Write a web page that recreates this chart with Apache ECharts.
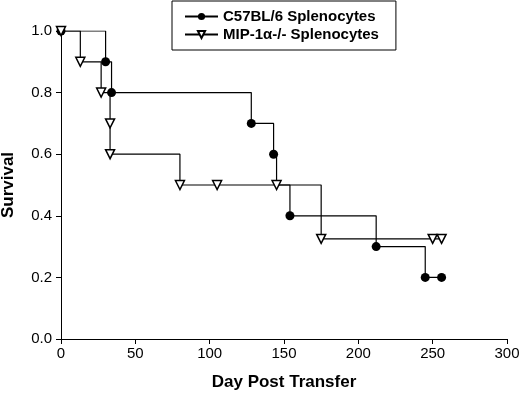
<!DOCTYPE html>
<html>
<head>
<meta charset="utf-8">
<script src="https://cdn.jsdelivr.net/npm/echarts@6/dist/echarts.min.js"></script>
<style>
	html, body { margin: 0; padding: 0; background: #fff; }
	#chart { width: 520px; height: 395px; }
</style>
</head>
<body>
<div id="chart"></div>
<script>
// Kaplan-Meier curves
const c57Name = 'C57BL/6 Splenocytes'
const c57Days = [0, 30, 34, 128, 143, 145, 154, 212, 245, 256]
const c57Surv = [1.0, 0.9, 0.8, 0.7, 0.6, 0.5, 0.4, 0.3, 0.2, 0.2]
const c57Hidden = [145] // step drop under the other curve's marker, no symbol drawn

const mipName = 'MIP-1\u03b1-/- Splenocytes'
const mipDays = [0, 13, 27, 33, 33, 80, 105, 145, 175, 250, 256]
const mipSurv = [1.0, 0.9, 0.8, 0.7, 0.6, 0.5, 0.5, 0.5, 0.325, 0.325, 0.325]

const xTicks = [0, 50, 100, 150, 200, 250, 300]
const yTicks = [0, 0.2, 0.4, 0.6, 0.8, 1.0]

const font = 'Liberation Sans, Arial, sans-serif'

function buildData(days, surv, hidden) {
	return days.map((d, i) => {
		const item = { value: [d, surv[i]] }
		if (hidden && hidden.includes(d)) item.symbol = 'none'
		return item
	})
}

const chart = echarts.init(document.getElementById('chart'))

chart.setOption({
	animation: false,
	backgroundColor: '#fff',
	grid: {
		left: 61,
		right: 13,
		top: 31,
		bottom: 56,
		outerBoundsMode: 'none',
		containLabel: false
	},
	legend: {
		orient: 'vertical',
		left: 172,
		top: 1,
		padding: [8, 17, 8, 12],
		itemGap: 3,
		itemWidth: 33,
		itemHeight: 9,
		borderColor: '#000',
		borderWidth: 1,
		textStyle: {
			fontFamily: font,
			fontWeight: 'bold',
			fontSize: 15,
			color: '#000'
		},
		data: [c57Name, mipName]
	},
	xAxis: {
		type: 'value',
		min: xTicks[0],
		max: xTicks[xTicks.length - 1],
		interval: 50,
		name: 'Day Post Transfer',
		nameLocation: 'middle',
		nameGap: 35,
		nameTextStyle: {
			fontFamily: font,
			fontWeight: 'bold',
			fontSize: 17,
			color: '#000'
		},
		axisLine: { lineStyle: { color: '#000', width: 1 } },
		axisTick: { show: true, length: 5, lineStyle: { color: '#000' } },
		axisLabel: {
			fontFamily: font,
			fontSize: 15,
			color: '#000',
			margin: 7
		},
		splitLine: { show: false }
	},
	yAxis: {
		type: 'value',
		min: yTicks[0],
		max: yTicks[yTicks.length - 1],
		interval: 0.2,
		name: 'Survival',
		nameLocation: 'middle',
		nameGap: 44,
		nameTextStyle: {
			fontFamily: font,
			fontWeight: 'bold',
			fontSize: 17,
			color: '#000'
		},
		axisLine: { show: true, lineStyle: { color: '#000', width: 1 } },
		axisTick: { show: true, length: 5, lineStyle: { color: '#000' } },
		axisLabel: {
			fontFamily: font,
			fontSize: 15,
			color: '#000',
			margin: 9,
			formatter: v => v.toFixed(1)
		},
		splitLine: { show: false }
	},
	series: [
		{
			name: c57Name,
			type: 'line',
			step: 'end',
			symbol: 'circle',
			symbolSize: 9,
			showAllSymbol: true,
			itemStyle: { color: '#000' },
			lineStyle: { color: '#000', width: 1.2 },
			data: buildData(c57Days, c57Surv, c57Hidden)
		},
		{
			name: mipName,
			type: 'line',
			step: 'end',
			symbol: 'triangle',
			symbolRotate: 180,
			symbolSize: 9,
			showAllSymbol: true,
			itemStyle: { color: '#fff', borderColor: '#000', borderWidth: 1.5 },
			lineStyle: { color: '#000', width: 1.2 },
			data: buildData(mipDays, mipSurv)
		}
	]
})
</script>
</body>
</html>
